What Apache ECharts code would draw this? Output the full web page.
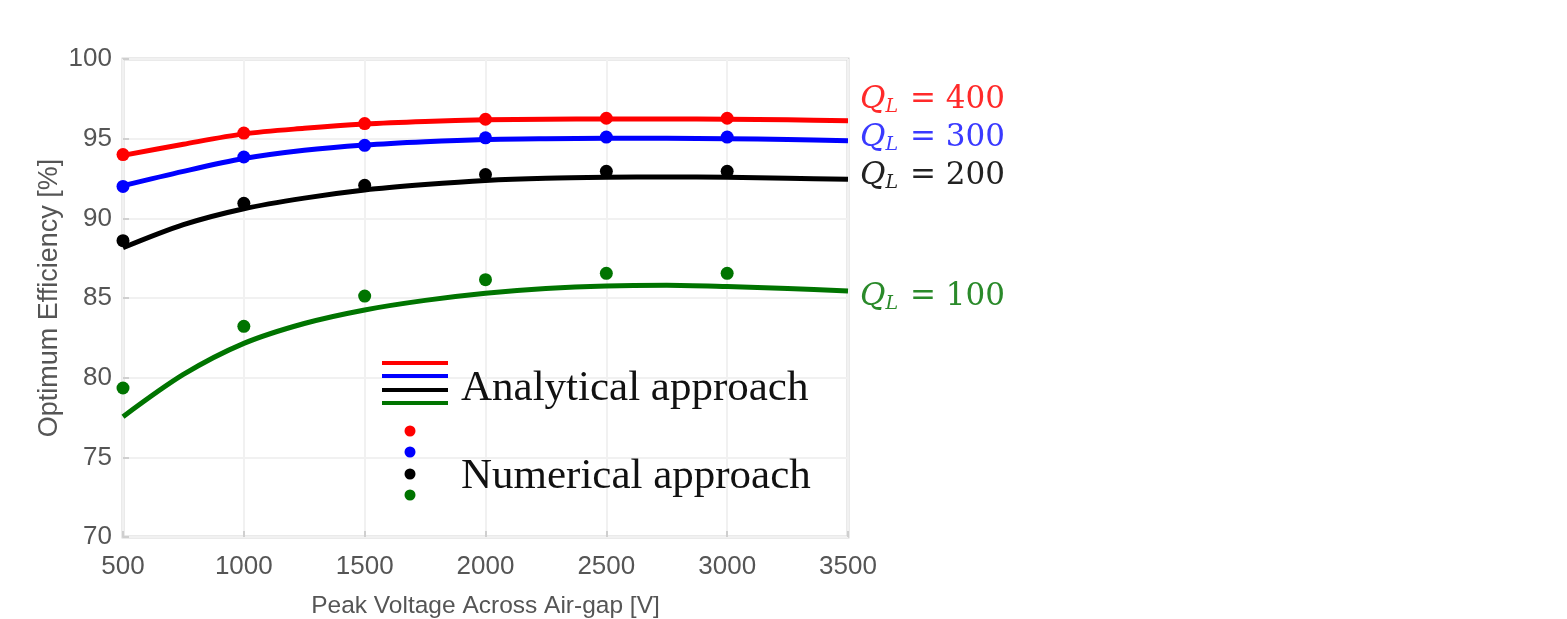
<!DOCTYPE html>
<html>
<head>
<meta charset="utf-8">
<script src="https://cdn.jsdelivr.net/npm/echarts@6/dist/echarts.min.js"></script>
<style>
html,body{margin:0;padding:0;background:#fff;}
#charts{width:1567px;height:619px;}
</style>
</head>
<body>
<div id="charts"></div>
<script>
// peak voltage (V)
var xLine = [500, 750, 1000, 1250, 1500, 1750, 2000, 2250, 2500, 2750, 3000, 3250, 3500];
var xDots = [500, 1000, 1500, 2000, 2500, 3000];

// analytical approach curves (every 250 V)
var ana400 = [93.95, 94.65, 95.3, 95.65, 95.92, 96.08, 96.18, 96.22, 96.23, 96.23, 96.22, 96.18, 96.13];
var ana300 = [92.05, 92.95, 93.75, 94.27, 94.6, 94.81, 94.95, 95.0, 95.02, 95.02, 95.0, 94.95, 94.87];
var ana200 = [88.15, 89.6, 90.6, 91.27, 91.78, 92.12, 92.38, 92.52, 92.58, 92.6, 92.58, 92.52, 92.45];
var ana100 = [77.55, 80.2, 82.15, 83.4, 84.25, 84.85, 85.3, 85.6, 85.76, 85.8, 85.72, 85.6, 85.44];

// numerical approach points
var num400 = [94.0, 95.35, 95.95, 96.22, 96.28, 96.28];
var num300 = [92.0, 93.85, 94.58, 95.05, 95.1, 95.1];
var num200 = [88.6, 90.94, 92.07, 92.75, 92.95, 92.95];
var num100 = [79.35, 83.22, 85.12, 86.15, 86.55, 86.55];

var qLabels = ['400', '300', '200', '100'];
var colors = ['#ff0000', '#0000ff', '#000000', '#007400'];
var labelColors = ['#ff2a2a', '#3a3aff', '#222222', '#2a8a2a'];
var labelOffsets = [-21, -3, -3, 6];

function pairs(xs, ys){
    var out = [];
    for (var i = 0; i < ys.length; i++){
        out.push([xs[i], ys[i]]);
    }
    return out;
}

var anaData = [ana400, ana300, ana200, ana100];
var numData = [num400, num300, num200, num100];

var series = [];
for (var k = 0; k < 4; k++){
    series.push({
        name: 'Analytical QL=' + qLabels[k],
        type: 'line',
        smooth: 0.3,
        symbol: 'none',
        data: pairs(xLine, anaData[k]),
        lineStyle: {color: colors[k], width: 5},
        z: 3,
        endLabel: {
            show: true,
            distance: 12,
            offset: [0, labelOffsets[k]],
            formatter: '{q|Q}{l|L}{n| = ' + qLabels[k] + '}',
            rich: {
                q: {fontFamily: 'DejaVu Serif', fontStyle: 'italic', fontSize: 31, color: labelColors[k]},
                l: {fontFamily: 'DejaVu Serif', fontStyle: 'italic', fontSize: 19, color: labelColors[k], verticalAlign: 'bottom', padding: [14, 2, 0, 0]},
                n: {fontFamily: 'DejaVu Serif', fontSize: 31, color: labelColors[k]}
            }
        }
    });
}
for (var m = 0; m < 4; m++){
    series.push({
        name: 'Numerical QL=' + qLabels[m],
        type: 'scatter',
        symbol: 'circle',
        symbolSize: 13,
        data: pairs(xDots, numData[m]),
        itemStyle: {color: colors[m], opacity: 1},
        z: 4
    });
}

// legend drawn as graphic (stacked line keys + dot keys)
var legendItems = [];
var lineYs = [363, 376, 390, 403];
var dotYs = [431, 452, 474, 495];
for (var g = 0; g < 4; g++){
    legendItems.push({
        type: 'line', z: 100,
        shape: {x1: 382, y1: lineYs[g], x2: 448, y2: lineYs[g]},
        style: {stroke: colors[g], lineWidth: 4}
    });
    legendItems.push({
        type: 'circle', z: 100,
        shape: {cx: 410, cy: dotYs[g], r: 5.5},
        style: {fill: colors[g]}
    });
}
legendItems.push({
    type: 'text', left: 461, top: 367, z: 100,
    style: {text: 'Analytical approach', font: '43px "Liberation Serif"', fill: '#111'}
});
legendItems.push({
    type: 'text', left: 461, top: 455, z: 100,
    style: {text: 'Numerical approach', font: '43px "Liberation Serif"', fill: '#111'}
});

var myChart = echarts.init(document.getElementById('charts'));
var option = {
    backgroundColor: '#ffffff',
    animation: false,
    grid: {
        left: 123, right: 719, top: 59, bottom: 82,
        outerBoundsMode: 'none',
        show: true, borderColor: '#d6d6d6', borderWidth: 3
    },
    xAxis: {
        type: 'value',
        min: 500, max: 3500, interval: 500,
        name: 'Peak Voltage Across Air-gap [V]',
        nameLocation: 'middle',
        nameGap: 57,
        nameTextStyle: {fontFamily: 'Liberation Sans', fontSize: 24.5, color: '#555'},
        axisLine: {show: false},
        axisTick: {show: true, inside: true, length: 6, lineStyle: {color: '#cfcfcf', width: 2}},
        axisLabel: {
            fontFamily: 'Liberation Sans', fontSize: 26, color: '#555', margin: 17,
            formatter: function (v) { return String(v); }
        },
        splitLine: {show: true, lineStyle: {color: '#f1f1f1', width: 2}}
    },
    yAxis: {
        type: 'value',
        min: 70, max: 100, interval: 5,
        name: 'Optimum Efficiency [%]',
        nameLocation: 'middle',
        nameGap: 60,
        nameTextStyle: {fontFamily: 'Liberation Sans', fontSize: 27, color: '#555'},
        axisLine: {show: false},
        axisTick: {show: true, inside: true, length: 6, lineStyle: {color: '#cfcfcf', width: 2}},
        axisLabel: {fontFamily: 'Liberation Sans', fontSize: 26, color: '#555', margin: 11},
        splitLine: {show: true, lineStyle: {color: '#f1f1f1', width: 2}}
    },
    series: series,
    graphic: legendItems
};
myChart.setOption(option);
</script>
</body>
</html>
